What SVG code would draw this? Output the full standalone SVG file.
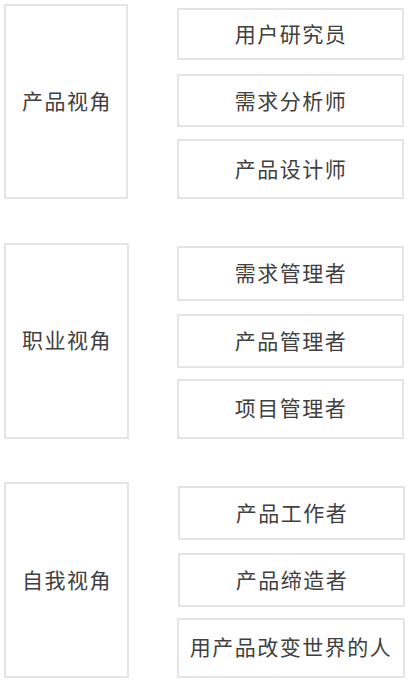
<svg xmlns="http://www.w3.org/2000/svg" width="408" height="682" viewBox="0 0 408 682">
<style>
.box{fill:#fff;stroke:#dcdcdc;stroke-width:1.5}
.t{font-family:"Noto Sans CJK SC","Liberation Sans",sans-serif;font-size:21px;fill:#404040;text-anchor:middle;dominant-baseline:central;letter-spacing:1.5px}
</style>
<rect width="408" height="682" fill="#fff"/>
<g id="connectors"></g>
<g id="g1">
<rect class="box" x="5" y="5" width="122" height="193"/>
<text class="t" x="67" y="99.5">产品视角</text>
</g>
<g id="n1"><rect class="box" x="178" y="9" width="225" height="50"/><text class="t" x="291" y="32.5">用户研究员</text></g>
<g id="n2"><rect class="box" x="178" y="75" width="225" height="51"/><text class="t" x="291" y="99.5">需求分析师</text></g>
<g id="n3"><rect class="box" x="178" y="140" width="225" height="58"/><text class="t" x="291" y="167.5">产品设计师</text></g>
<g id="g2">
<rect class="box" x="5" y="244" width="123" height="194"/>
<text class="t" x="67" y="338.5">职业视角</text>
</g>
<g id="n4"><rect class="box" x="178" y="247" width="225" height="53"/><text class="t" x="291" y="271.5">需求管理者</text></g>
<g id="n5"><rect class="box" x="178" y="315" width="225" height="52"/><text class="t" x="291" y="339.5">产品管理者</text></g>
<g id="n6"><rect class="box" x="178" y="380" width="225" height="58"/><text class="t" x="291" y="406.5">项目管理者</text></g>
<g id="g3">
<rect class="box" x="5" y="483" width="123" height="194"/>
<text class="t" x="67" y="578.5">自我视角</text>
</g>
<g id="n7"><rect class="box" x="179" y="487" width="225" height="52"/><text class="t" x="292" y="511.5">产品工作者</text></g>
<g id="n8"><rect class="box" x="179" y="554" width="225" height="52"/><text class="t" x="292" y="578.5">产品缔造者</text></g>
<g id="n9"><rect class="box" x="178" y="619" width="226" height="58"/><text class="t" x="291" y="645.5">用产品改变世界的人</text></g>
</svg>
